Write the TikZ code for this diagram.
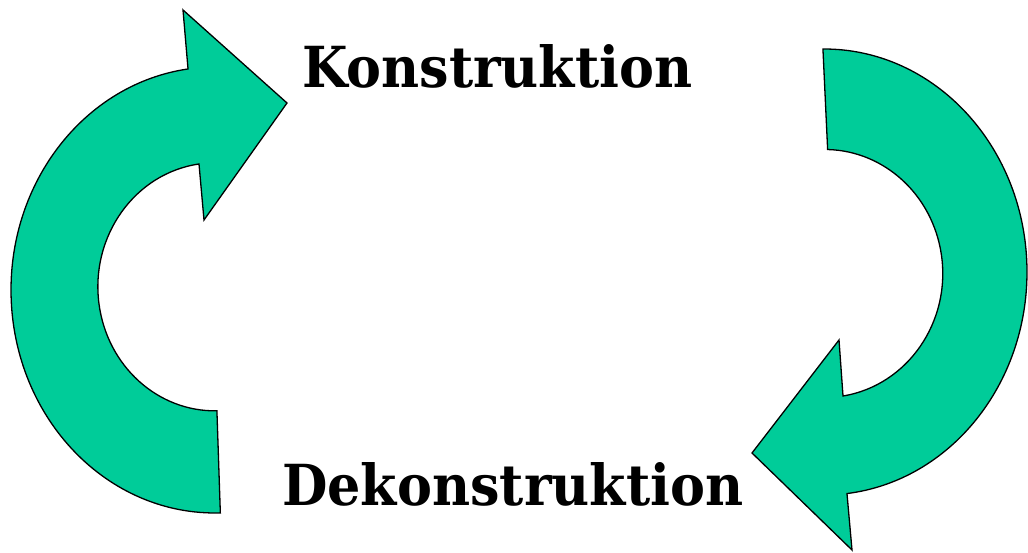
\documentclass[tikz,border=0pt]{standalone}
\usepackage{fontspec}
\setmainfont{DejaVu Serif}
\usepackage{graphicx}
\definecolor{arrowgreen}{RGB}{0,204,153}
\tikzset{
  bigarrow/.style={fill=arrowgreen, draw=black, line width=1.3pt, line join=miter},
  wordlabel/.style={inner sep=0pt, anchor=base west, font=\bfseries}
}
\begin{document}
\begin{tikzpicture}[x=1pt,y=1pt]
\useasboundingbox (0,0) rectangle (1028,553);
% left arrow (upwards, pointing right)
\coordinate (lc) at (215,263);
\draw[bigarrow] ([shift={(-88.5:204pt and 223pt)}]lc)
  arc[start angle=-88.5, end angle=-262.4, x radius=204pt, y radius=223pt]
  -- (183,543) -- (287,450) -- (204,333) -- (199,389)
  arc[start angle=97.8, end angle=271, x radius=117pt, y radius=124pt]
  -- cycle;
% right arrow (downwards, pointing left)
\coordinate (rc) at (824,281);
\draw[bigarrow] ([shift={(90.3:203pt and 223pt)}]rc)
  arc[start angle=90.3, end angle=-83.5, x radius=203pt, y radius=223pt]
  -- (852,3) -- (752,100) -- (839,213) -- (843,157)
  arc[start angle=-81.1, end angle=88.6, x radius=118pt, y radius=124pt]
  -- cycle;
\node[wordlabel] (kon) at (302,465) {\resizebox{390pt}{43pt}{Konstruktion}};
\node[wordlabel] (dekon) at (282,47) {\resizebox{461pt}{43pt}{Dekonstruktion}};
\end{tikzpicture}
\end{document}
